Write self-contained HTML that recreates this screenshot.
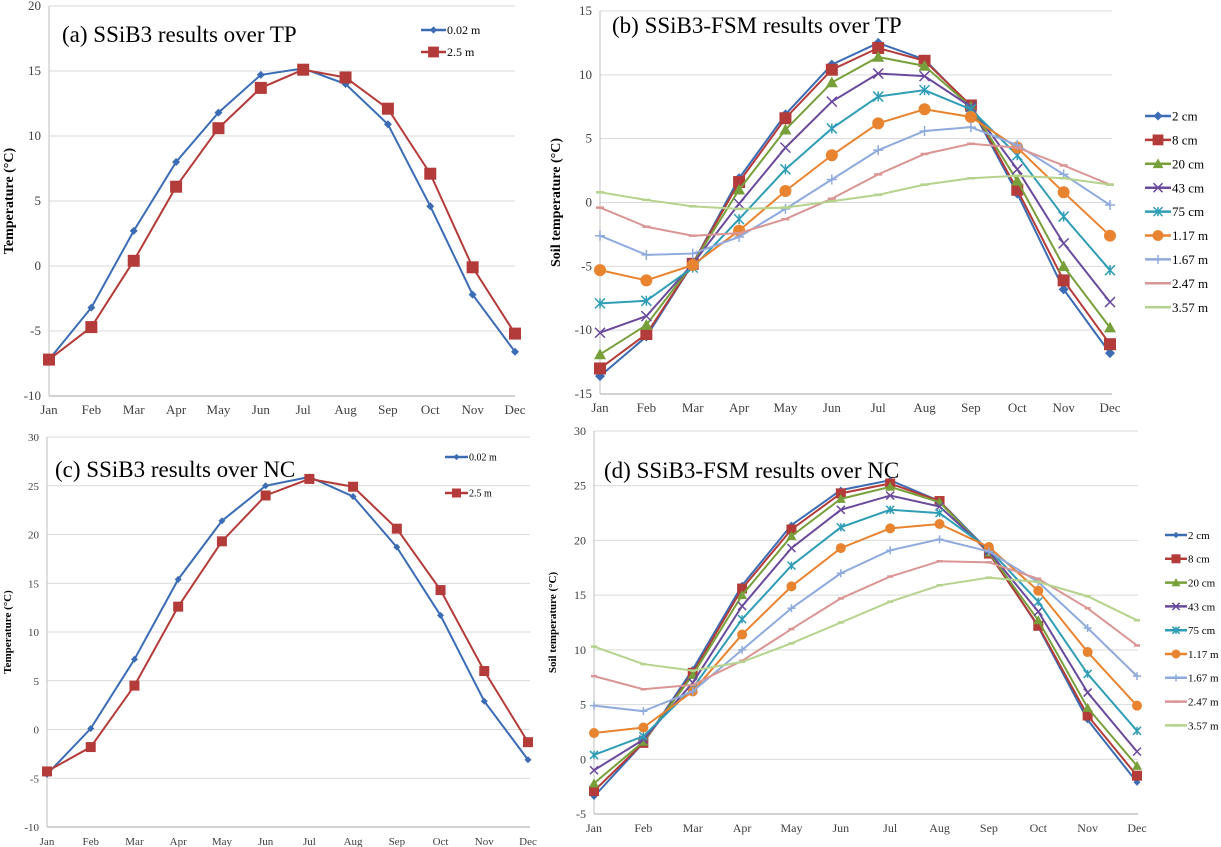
<!DOCTYPE html>
<html><head><meta charset="utf-8"><style>
html,body{margin:0;padding:0;background:#fff;}
svg{display:block;font-family:"Liberation Serif",serif;}
</style></head><body>
<svg id="s" width="1221" height="847" viewBox="0 0 1221 847"></svg>
<script>
const months=["Jan","Feb","Mar","Apr","May","Jun","Jul","Aug","Sep","Oct","Nov","Dec"];
// panel a
const aSurf=[-7.2,-3.2,2.7,8.0,11.8,14.7,15.2,14.0,10.9,4.6,-2.2,-6.6];
const aDeep=[-7.2,-4.7,0.4,6.1,10.6,13.7,15.1,14.5,12.1,7.1,-0.1,-5.2];
// panel c
const cSurf=[-4.6,0.1,7.2,15.4,21.4,25.0,25.9,23.9,18.7,11.7,2.9,-3.1];
const cDeep=[-4.3,-1.8,4.5,12.6,19.3,24.0,25.7,24.9,20.6,14.3,6.0,-1.3];
// panel b
const depthLabels=["2 cm","8 cm","20 cm","43 cm","75 cm","1.17 m","1.67 m","2.47 m","3.57 m"];
const b2=[-13.6,-10.5,-4.8,1.9,6.9,10.8,12.5,11.2,7.5,0.7,-6.8,-11.8];
const b8=[-13.0,-10.3,-4.8,1.6,6.6,10.4,12.1,11.1,7.6,1.0,-6.1,-11.1];
const b20=[-11.9,-9.6,-4.8,1.0,5.7,9.4,11.4,10.7,7.5,1.7,-5.0,-9.8];
const b43=[-10.2,-8.9,-4.8,-0.1,4.3,7.9,10.1,9.9,7.5,2.6,-3.2,-7.8];
const b75=[-7.9,-7.7,-5.1,-1.3,2.6,5.8,8.3,8.8,7.3,3.7,-1.1,-5.3];
const b117=[-5.3,-6.1,-4.9,-2.2,0.9,3.7,6.2,7.3,6.7,4.3,0.8,-2.6];
const b167=[-2.6,-4.1,-4.0,-2.7,-0.5,1.8,4.1,5.6,5.9,4.5,2.2,-0.2];
const b247=[-0.4,-1.9,-2.6,-2.4,-1.3,0.3,2.2,3.8,4.6,4.3,2.9,1.4];
const b357=[0.8,0.2,-0.3,-0.5,-0.4,0.1,0.6,1.4,1.9,2.1,1.9,1.4];
// panel d
const d2=[-3.4,1.5,8.2,15.9,21.4,24.6,25.5,23.6,19.0,12.1,3.6,-2.1];
const d8=[-2.9,1.5,7.9,15.6,21.0,24.3,25.2,23.6,18.8,12.2,4.0,-1.5];
const d20=[-2.2,1.6,7.7,15.0,20.4,23.8,24.9,23.5,18.9,12.7,4.7,-0.6];
const d43=[-1.0,1.8,7.0,14.0,19.3,22.8,24.1,23.1,19.0,13.5,6.1,0.7];
const d75=[0.4,2.1,6.5,12.8,17.7,21.2,22.8,22.5,19.2,14.4,7.8,2.6];
const d117=[2.4,2.9,6.2,11.4,15.8,19.3,21.1,21.5,19.4,15.4,9.8,4.9];
const d167=[4.9,4.4,6.2,10.0,13.8,17.0,19.1,20.1,19.0,16.2,12.0,7.6];
const d247=[7.6,6.4,6.8,9.0,11.9,14.7,16.7,18.1,18.0,16.5,13.8,10.4];
const d357=[10.3,8.7,8.1,8.9,10.6,12.5,14.4,15.9,16.6,16.2,14.9,12.7];
const aTicks=[-10,-5,0,5,10,15,20];
const bTicks=[-15,-10,-5,0,5,10,15];
const cTicks=[-10,-5,0,5,10,15,20,25,30];
const dTicks=[-5,0,5,10,15,20,25,30];

const colors=["#3b6cb4","#b33c3a","#77a03b","#6a4a9a","#2f9db5","#e8832f","#8faadc","#d99694","#b5d38c"];
const markers=["diamond","square","triangle","x","star","circle","plus","dash","dash"];
const NS="http://www.w3.org/2000/svg";
const svg=document.getElementById('s');
function el(tag,attrs,parent){const e=document.createElementNS(NS,tag);for(const k in attrs)e.setAttribute(k,attrs[k]);(parent||svg).appendChild(e);return e;}

function marker(g,type,x,y,c,sz){
  let m;
  if(type==="diamond"){m=el('path',{d:`M${x} ${y-sz}L${x+sz} ${y}L${x} ${y+sz}L${x-sz} ${y}Z`,fill:c},g);}
  else if(type==="square"){m=el('rect',{x:x-sz,y:y-sz,width:2*sz,height:2*sz,fill:c},g);}
  else if(type==="triangle"){m=el('path',{d:`M${x} ${y-sz}L${x+sz} ${y+sz*0.8}L${x-sz} ${y+sz*0.8}Z`,fill:c},g);}
  else if(type==="circle"){m=el('circle',{cx:x,cy:y,r:sz,fill:c},g);}
  else if(type==="x"){m=el('path',{d:`M${x-sz} ${y-sz}L${x+sz} ${y+sz}M${x-sz} ${y+sz}L${x+sz} ${y-sz}`,stroke:c,'stroke-width':1.5},g);}
  else if(type==="star"){m=el('path',{d:`M${x-sz} ${y-sz}L${x+sz} ${y+sz}M${x-sz} ${y+sz}L${x+sz} ${y-sz}M${x} ${y-sz}L${x} ${y+sz}`,stroke:c,'stroke-width':1.5},g);}
  else if(type==="plus"){m=el('path',{d:`M${x-sz} ${y}L${x+sz} ${y}M${x} ${y-sz}L${x} ${y+sz}`,stroke:c,'stroke-width':1.5},g);}
  else {m=el('path',{d:`M${x-sz} ${y}L${x+sz} ${y}`,stroke:c,'stroke-width':2.5},g);}
  
  
}

function panel(o){
  const g=el('g',{});
  
  
  const ymin=o.ticks[0],ymax=o.ticks[o.ticks.length-1];
  const X=i=>o.x0+(o.x1-o.x0)*i/11;
  const Y=v=>o.yb+(o.yt-o.yb)*(v-ymin)/(ymax-ymin);
  o.ticks.forEach(t=>{
    const l=el('line',{x1:o.x0,x2:o.xr,y1:Y(t),y2:Y(t),stroke:t===ymin?'#a6a6a6':'#d9d9d9','stroke-width':1},g);
    
    const tx=el('text',{x:o.x0-8,y:Y(t)+4,'font-size':o.tfs,'text-anchor':'end',fill:'#404040'},g);
    tx.textContent=t;
  });
  const ax=el('line',{x1:o.x0,x2:o.x0,y1:o.yt,y2:o.yb,stroke:'#bfbfbf'},g);
  
  months.forEach((m,i)=>{
    const tx=el('text',{x:X(i),y:o.yb+18,'font-size':o.tfs,'text-anchor':'middle',fill:'#404040'},g);
    tx.textContent=m;
  });
  const yt=el('text',{transform:`translate(${o.ytx},${(o.yt+o.yb)/2}) rotate(-90)`,'font-size':o.yfs,'font-weight':'bold','text-anchor':'middle'},g);
  yt.textContent=o.ytitle;
  const ti=el('text',{x:o.tx,y:o.ty,'font-size':o.titfs},g);
  ti.textContent=o.title;
  o.series.forEach((s,k)=>{
    const c=o.cols[k];
    const pl=el('polyline',{points:s.map((v,i)=>X(i)+','+Y(v)).join(' '),fill:'none',stroke:c,'stroke-width':2},g);
    
    s.forEach((v,i)=>marker(g,o.mk[k],X(i),Y(v),c,o.msz[k]));
    const ly=o.ly0+k*o.ldy;
    const le=el('g',{},g);
    
    el('line',{x1:o.lx,x2:o.lx+o.llen,y1:ly,y2:ly,stroke:c,'stroke-width':2.5},le);
    marker(le,o.mk[k],o.lx+o.llen/2,ly,c,o.msz[k]*0.9);
    const lt=el('text',{x:o.lx+o.llen+1,y:ly+o.lfs*0.35,'font-size':o.lfs},le);
    lt.textContent=o.labels[k];
  });
}

panel({name:'panel-a',x0:49,x1:515,xr:515,yt:6,yb:396,ticks:aTicks,tfs:13,ytx:13,yfs:14,ytitle:'Temperature (°C)',
  title:'(a)  SSiB3 results over TP',tx:62,ty:42,titfs:23,series:[aSurf,aDeep],cols:[colors[0],colors[1]],mk:['diamond','square'],msz:[4,6],
  labels:['0.02 m','2.5 m'],lx:421,ly0:30,ldy:22,llen:25,lfs:12});
panel({name:'panel-b',x0:600,x1:1110,xr:1112,yt:11,yb:394,ticks:bTicks,tfs:13,ytx:560,yfs:14,ytitle:'Soil temperature (°C)',
  title:'(b)  SSiB3-FSM results over TP',tx:612,ty:33,titfs:23,series:[b2,b8,b20,b43,b75,b117,b167,b247,b357],cols:colors,mk:markers,msz:[5,6,6,5,5,6,5,4,4],
  labels:depthLabels,lx:1145,ly0:116,ldy:23.9,llen:26,lfs:13});
panel({name:'panel-c',x0:47,x1:528,xr:530,yt:437,yb:827,ticks:cTicks,tfs:11,ytx:11,yfs:11,ytitle:'Temperature (°C)',
  title:'(c) SSiB3 results over NC',tx:55,ty:477,titfs:23,series:[cSurf,cDeep],cols:[colors[0],colors[1]],mk:['diamond','square'],msz:[3.5,5],
  labels:['0.02 m','2.5 m'],lx:445,ly0:457,ldy:36,llen:23,lfs:10});
panel({name:'panel-d',x0:594,x1:1137,xr:1138,yt:431,yb:814,ticks:dTicks,tfs:12,ytx:556,yfs:11,ytitle:'Soil temperature (°C)',
  title:'(d)  SSiB3-FSM results over NC',tx:604,ty:478,titfs:23,series:[d2,d8,d20,d43,d75,d117,d167,d247,d357],cols:colors,mk:markers,msz:[3.5,5,5,4,4,5,4,3,3],
  labels:depthLabels,lx:1165,ly0:535,ldy:23.8,llen:22,lfs:11});
</script>
</body></html>
